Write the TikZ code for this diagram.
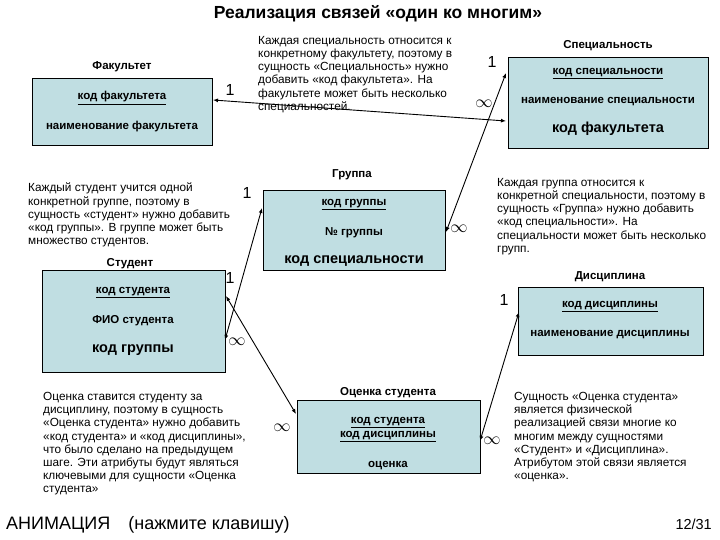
\documentclass[tikz,border=0pt]{standalone}
\usepackage{fontspec}
\setmainfont{Liberation Sans}
\usetikzlibrary{arrows.meta}
\definecolor{boxc}{HTML}{C0DEE2}
\begin{document}
\begin{tikzpicture}[x=1pt,y=-1pt,
  ent/.style={draw,fill=boxc,line width=0.8pt},
  ttl/.style={font=\bfseries\fontsize{11.5}{12}\selectfont},
  att/.style={font=\bfseries\fontsize{11.5}{12}\selectfont},
  big/.style={font=\bfseries\fontsize{14.5}{15}\selectfont},
  note/.style={align=left,anchor=north west,inner sep=0pt,font=\fontsize{11.8}{13.2}\selectfont},
  card/.style={font=\fontsize{16}{17}\selectfont},
  rel/.style={line width=0.9pt,{Latex[length=5pt,width=4pt]}-{Latex[length=5pt,width=4pt]}}]
\useasboundingbox (0,0) rectangle (720,540);
\node[font=\bfseries\fontsize{17.5}{18}\selectfont] (title) at (378,14) {Реализация связей «один ко многим»};
% Факультет
\node[ttl] (fT) at (122,67) {Факультет};
\draw[ent] (32,78) rectangle (212,145);
\node[att] (f1) at (122,98) {\underline{код факультета}};
\node[att] (f2) at (122,127) {наименование факультета};
\coordinate (fR) at (213,100);
% Специальность
\node[ttl] (sT) at (608,46) {Специальность};
\draw[ent] (508,57) rectangle (708,148);
\node[att] (s1) at (608,74) {\underline{код специальности}};
\node[att] (s2) at (608,102) {наименование специальности};
\node[big] (s3) at (608,129) {код факультета};
\coordinate (sL1) at (506,121);
\coordinate (sL2) at (506,73);
% Группа
\node[ttl] (gT) at (352,175) {Группа};
\draw[ent] (263,190) rectangle (445,270);
\node[att] (g1) at (354,205) {\underline{код группы}};
\node[att] (g2) at (354,233) {№ группы};
\node[big] (g3) at (354,261) {код специальности};
\coordinate (gR) at (446,232);
\coordinate (gL) at (262,208);
% Студент
\node[ttl] (stT) at (130,264) {Студент};
\draw[ent] (42,270) rectangle (225,372);
\node[att] (st1) at (133,293) {\underline{код студента}};
\node[att] (st2) at (133,321) {ФИО студента};
\node[big] (st3) at (133,350) {код группы};
\coordinate (stR1) at (226,296);
\coordinate (stR2) at (225,340);
% Дисциплина
\node[ttl] (dT) at (610,277) {Дисциплина};
\draw[ent] (518,287) rectangle (703,355);
\node[att] (d1) at (610,307) {\underline{код дисциплины}};
\node[att] (d2) at (610,335) {наименование дисциплины};
\coordinate (dL) at (519,312);
% Оценка
\node[ttl] (oT) at (388,393) {Оценка студента};
\draw[ent] (297,400) rectangle (480,473);
\node[att] (o1) at (388,423) {\underline{код студента}};
\node[att] (o2) at (388,437) {\underline{код дисциплины}};
\node[att] (o3) at (388,466) {оценка};
\coordinate (oL) at (296,414);
\coordinate (oR) at (480,441);
% relations
\draw[rel] (fR) -- (sL1);
\draw[rel] (gR) -- (sL2);
\draw[rel] (stR2) -- (gL);
\draw[rel] (stR1) -- (oL);
\draw[rel] (oR) -- (dL);
% cardinalities
\node[card] (c1) at (230,90) {1};
\node[card] (c2) at (484,104) {$\infty$};
\node[card] (c3) at (492,62) {1};
\node[card] (c4) at (459,229) {$\infty$};
\node[card] (c5) at (247,193) {1};
\node[card] (c6) at (237,342) {$\infty$};
\node[card] (c7) at (230,278) {1};
\node[card] (c8) at (282,428) {$\infty$};
\node[card] (c9) at (504,300) {1};
\node[card] (c10) at (492,441) {$\infty$};
% notes
\node[note] (n1) at (258,36) {Каждая специальность относится к\\конкретному факультету, поэтому в\\сущность «Специальность» нужно\\добавить «код факультета». На\\факультете может быть несколько\\специальностей.};
\node[note] (n2) at (28,183) {Каждый студент учится одной\\конкретной группе, поэтому в\\сущность «студент» нужно добавить\\«код группы». В группе может быть\\множество студентов.};
\node[note] (n3) at (497,178) {Каждая группа относится к\\конкретной специальности, поэтому в\\сущность «Группа» нужно добавить\\«код специальности». На\\специальности может быть несколько\\групп.};
\node[note] (n4) at (43,392) {Оценка ставится студенту за\\дисциплину, поэтому в сущность\\«Оценка студента» нужно добавить\\«код студента» и «код дисциплины»,\\что было сделано на предыдущем\\шаге. Эти атрибуты будут являться\\ключевыми для сущности «Оценка\\студента»};
\node[note] (n5) at (514,392) {Сущность «Оценка студента»\\является физической\\реализацией связи многие ко\\многим между сущностями\\«Студент» и «Дисциплина».\\Атрибутом этой связи является\\«оценка».};
\node[anchor=west,inner sep=0pt,font=\fontsize{18}{20}\selectfont] (anim) at (6,525) {АНИМАЦИЯ\quad (нажмите клавишу)};
\node[anchor=east,inner sep=0pt,font=\fontsize{14.5}{16}\selectfont] (pg) at (712,524) {12/31};
\end{tikzpicture}
\end{document}
